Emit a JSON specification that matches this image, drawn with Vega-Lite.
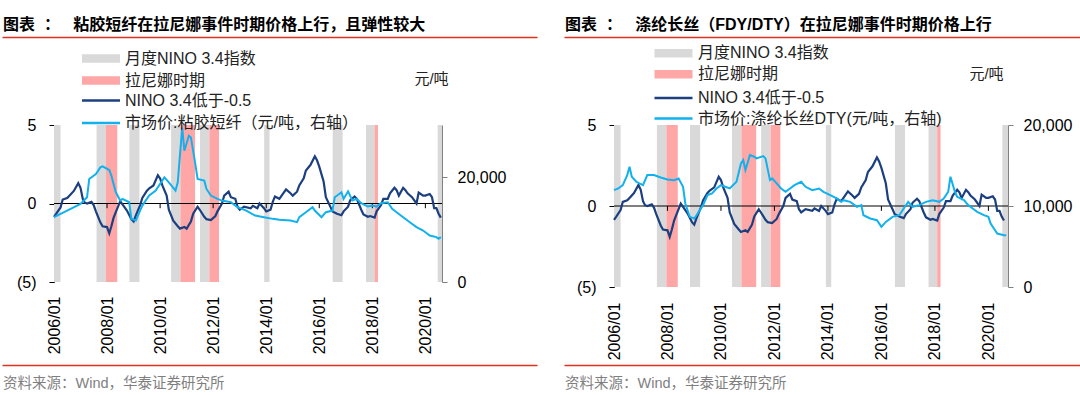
{
  "$schema": "https://vega.github.io/schema/vega-lite/v6.json",
  "background": "white",
  "padding": {"left": 2, "top": 17, "right": 0, "bottom": 0},
  "spacing": 0,
  "config": {
    "view": {"stroke": null},
    "axis": {"labelFont": "Liberation Sans, Noto Sans CJK SC", "titleFont": "Liberation Sans, Noto Sans CJK SC"},
    "legend": {"labelFont": "Liberation Sans, Noto Sans CJK SC"},
    "title": {"font": "Liberation Sans, Noto Sans CJK SC"}
  },
  "datasets": {
    "nino": [
      {"date": "2006/01/01", "nino": -0.85}, {"date": "2006/02/01", "nino": -0.65}, {"date": "2006/04/01", "nino": -0.25}, {"date": "2006/05/01", "nino": 0.25},
      {"date": "2006/07/01", "nino": 0.35}, {"date": "2006/08/01", "nino": 0.5}, {"date": "2006/10/01", "nino": 0.8}, {"date": "2006/12/01", "nino": 1.3},
      {"date": "2007/01/01", "nino": 1.0}, {"date": "2007/02/01", "nino": 0.3}, {"date": "2007/03/01", "nino": 0.05}, {"date": "2007/04/01", "nino": 0},
      {"date": "2007/06/01", "nino": 0.1}, {"date": "2007/07/01", "nino": -0.1}, {"date": "2007/08/01", "nino": -0.5}, {"date": "2007/10/01", "nino": -1.2},
      {"date": "2007/11/01", "nino": -1.45}, {"date": "2008/01/01", "nino": -1.5}, {"date": "2008/02/01", "nino": -1.9}, {"date": "2008/03/01", "nino": -1.45},
      {"date": "2008/04/01", "nino": -0.9}, {"date": "2008/05/01", "nino": -0.55}, {"date": "2008/07/01", "nino": 0.15}, {"date": "2008/08/01", "nino": -0.05},
      {"date": "2008/10/01", "nino": -0.45}, {"date": "2008/12/01", "nino": -1.0}, {"date": "2009/01/01", "nino": -1.15}, {"date": "2009/02/01", "nino": -0.75},
      {"date": "2009/04/01", "nino": -0.1}, {"date": "2009/05/01", "nino": 0.35}, {"date": "2009/07/01", "nino": 0.8}, {"date": "2009/08/01", "nino": 0.95},
      {"date": "2009/10/01", "nino": 1.15}, {"date": "2009/12/01", "nino": 1.8}, {"date": "2010/01/01", "nino": 1.6}, {"date": "2010/02/01", "nino": 1.15},
      {"date": "2010/04/01", "nino": 0.5}, {"date": "2010/05/01", "nino": -0.4}, {"date": "2010/07/01", "nino": -1.1}, {"date": "2010/09/01", "nino": -1.45},
      {"date": "2010/10/01", "nino": -1.6}, {"date": "2010/12/01", "nino": -1.5}, {"date": "2011/01/01", "nino": -1.6}, {"date": "2011/03/01", "nino": -1.15},
      {"date": "2011/04/01", "nino": -0.65}, {"date": "2011/06/01", "nino": -0.2}, {"date": "2011/07/01", "nino": -0.4}, {"date": "2011/09/01", "nino": -0.85},
      {"date": "2011/10/01", "nino": -1.0}, {"date": "2011/12/01", "nino": -1.05}, {"date": "2012/02/01", "nino": -0.8}, {"date": "2012/03/01", "nino": -0.5},
      {"date": "2012/05/01", "nino": 0}, {"date": "2012/06/01", "nino": 0.5}, {"date": "2012/08/01", "nino": 0.75}, {"date": "2012/09/01", "nino": 0.4},
      {"date": "2012/11/01", "nino": 0.3}, {"date": "2012/12/01", "nino": -0.2}, {"date": "2013/01/01", "nino": -0.4}, {"date": "2013/03/01", "nino": -0.2},
      {"date": "2013/06/01", "nino": -0.3}, {"date": "2013/07/01", "nino": -0.15}, {"date": "2013/09/01", "nino": -0.3}, {"date": "2013/10/01", "nino": 0},
      {"date": "2013/12/01", "nino": -0.3}, {"date": "2014/01/01", "nino": -0.5}, {"date": "2014/03/01", "nino": -0.4}, {"date": "2014/04/01", "nino": 0.1},
      {"date": "2014/05/01", "nino": 0.45}, {"date": "2014/07/01", "nino": 0.3}, {"date": "2014/08/01", "nino": 0.5}, {"date": "2014/10/01", "nino": 0.9},
      {"date": "2014/12/01", "nino": 0.65}, {"date": "2015/01/01", "nino": 0.5}, {"date": "2015/03/01", "nino": 0.75}, {"date": "2015/04/01", "nino": 1.15},
      {"date": "2015/06/01", "nino": 1.6}, {"date": "2015/07/01", "nino": 2.1}, {"date": "2015/09/01", "nino": 2.45}, {"date": "2015/11/01", "nino": 3.0},
      {"date": "2015/12/01", "nino": 2.75}, {"date": "2016/01/01", "nino": 2.35}, {"date": "2016/03/01", "nino": 1.4}, {"date": "2016/04/01", "nino": 0.4},
      {"date": "2016/06/01", "nino": -0.2}, {"date": "2016/07/01", "nino": -0.5}, {"date": "2016/09/01", "nino": -0.65}, {"date": "2016/11/01", "nino": -0.75},
      {"date": "2016/12/01", "nino": -0.5}, {"date": "2017/02/01", "nino": -0.2}, {"date": "2017/03/01", "nino": 0.2}, {"date": "2017/05/01", "nino": 0.45},
      {"date": "2017/06/01", "nino": 0.3}, {"date": "2017/08/01", "nino": -0.4}, {"date": "2017/09/01", "nino": -0.7}, {"date": "2017/11/01", "nino": -0.85},
      {"date": "2017/12/01", "nino": -0.8}, {"date": "2018/02/01", "nino": -0.9}, {"date": "2018/03/01", "nino": -0.5}, {"date": "2018/05/01", "nino": -0.1},
      {"date": "2018/06/01", "nino": 0.3}, {"date": "2018/08/01", "nino": 0.3}, {"date": "2018/09/01", "nino": 0.65}, {"date": "2018/11/01", "nino": 1.0},
      {"date": "2018/12/01", "nino": 0.85}, {"date": "2019/01/01", "nino": 0.5}, {"date": "2019/03/01", "nino": 1.0}, {"date": "2019/04/01", "nino": 0.85},
      {"date": "2019/05/01", "nino": 0.65}, {"date": "2019/07/01", "nino": 0.4}, {"date": "2019/09/01", "nino": 0}, {"date": "2019/10/01", "nino": 0.7},
      {"date": "2019/12/01", "nino": 0.5}, {"date": "2020/01/01", "nino": 0.5}, {"date": "2020/03/01", "nino": 0.6}, {"date": "2020/04/01", "nino": 0.4},
      {"date": "2020/05/01", "nino": -0.3}, {"date": "2020/06/01", "nino": -0.3}, {"date": "2020/07/01", "nino": -0.65}, {"date": "2020/08/01", "nino": -0.9}
    ],
    "shade_l": [
      {"start": "2006/01/01", "end": "2006/04/01", "kind": "月度NINO 3.4指数"},
      {"start": "2007/08/10", "end": "2007/12/17", "kind": "月度NINO 3.4指数"},
      {"start": "2007/12/17", "end": "2008/05/21", "kind": "拉尼娜时期"},
      {"start": "2008/11/04", "end": "2009/03/22", "kind": "月度NINO 3.4指数"},
      {"start": "2010/06/01", "end": "2010/10/07", "kind": "月度NINO 3.4指数"},
      {"start": "2010/10/07", "end": "2011/04/27", "kind": "拉尼娜时期"},
      {"start": "2011/07/04", "end": "2011/11/10", "kind": "月度NINO 3.4指数"},
      {"start": "2011/11/10", "end": "2012/03/22", "kind": "拉尼娜时期"},
      {"start": "2013/12/04", "end": "2014/02/15", "kind": "月度NINO 3.4指数"},
      {"start": "2016/07/04", "end": "2016/11/18", "kind": "月度NINO 3.4指数"},
      {"start": "2017/10/06", "end": "2018/02/01", "kind": "月度NINO 3.4指数"},
      {"start": "2018/02/01", "end": "2018/03/19", "kind": "拉尼娜时期"},
      {"start": "2020/06/19", "end": "2020/08/17", "kind": "月度NINO 3.4指数"}
    ],
    "shade_r": [
      {"start": "2006/01/01", "end": "2006/04/01", "kind": "月度NINO 3.4指数"},
      {"start": "2007/08/10", "end": "2007/12/17", "kind": "月度NINO 3.4指数"},
      {"start": "2007/12/17", "end": "2008/05/21", "kind": "拉尼娜时期"},
      {"start": "2008/11/04", "end": "2009/03/22", "kind": "月度NINO 3.4指数"},
      {"start": "2010/06/01", "end": "2010/10/07", "kind": "月度NINO 3.4指数"},
      {"start": "2010/10/07", "end": "2011/04/27", "kind": "拉尼娜时期"},
      {"start": "2011/07/04", "end": "2011/11/10", "kind": "月度NINO 3.4指数"},
      {"start": "2011/11/10", "end": "2012/03/22", "kind": "拉尼娜时期"},
      {"start": "2013/12/04", "end": "2014/02/15", "kind": "月度NINO 3.4指数"},
      {"start": "2016/07/04", "end": "2016/11/18", "kind": "月度NINO 3.4指数"},
      {"start": "2017/10/06", "end": "2018/02/01", "kind": "月度NINO 3.4指数"},
      {"start": "2018/02/01", "end": "2018/03/19", "kind": "拉尼娜时期"},
      {"start": "2020/07/10", "end": "2020/09/25", "kind": "月度NINO 3.4指数"}
    ],
    "price_l": [
      {"date": "2006/01/01", "price": 12380}, {"date": "2006/07/01", "price": 13650}, {"date": "2007/01/01", "price": 14920}, {"date": "2007/04/01", "price": 16190},
      {"date": "2007/05/01", "price": 19685}, {"date": "2007/08/01", "price": 20640}, {"date": "2007/10/01", "price": 21910}, {"date": "2007/11/01", "price": 22100},
      {"date": "2008/02/01", "price": 21400}, {"date": "2008/03/01", "price": 20320}, {"date": "2008/05/01", "price": 17145}, {"date": "2008/07/01", "price": 15560},
      {"date": "2008/08/01", "price": 15875}, {"date": "2008/11/01", "price": 15240}, {"date": "2008/12/01", "price": 12065}, {"date": "2009/02/01", "price": 11750},
      {"date": "2009/03/01", "price": 12700}, {"date": "2009/05/01", "price": 14600}, {"date": "2009/08/01", "price": 16510}, {"date": "2009/11/01", "price": 17460},
      {"date": "2010/03/01", "price": 20000}, {"date": "2010/05/01", "price": 19050}, {"date": "2010/08/01", "price": 17460}, {"date": "2010/09/01", "price": 19050},
      {"date": "2010/11/01", "price": 29530}, {"date": "2010/12/01", "price": 25080}, {"date": "2011/02/01", "price": 27940}, {"date": "2011/03/01", "price": 27620},
      {"date": "2011/05/01", "price": 22540}, {"date": "2011/06/01", "price": 19685}, {"date": "2011/09/01", "price": 19370}, {"date": "2011/10/01", "price": 17780},
      {"date": "2011/12/01", "price": 16510}, {"date": "2012/03/01", "price": 15875}, {"date": "2012/05/01", "price": 15560}, {"date": "2012/09/01", "price": 15240},
      {"date": "2012/12/01", "price": 14290}, {"date": "2013/04/01", "price": 13650}, {"date": "2013/08/01", "price": 12700}, {"date": "2013/12/01", "price": 12380},
      {"date": "2014/04/01", "price": 12065}, {"date": "2014/07/01", "price": 11875}, {"date": "2014/12/01", "price": 11750}, {"date": "2015/03/01", "price": 11430},
      {"date": "2015/04/01", "price": 12380}, {"date": "2015/07/01", "price": 13335}, {"date": "2015/10/01", "price": 14290}, {"date": "2015/11/01", "price": 13650},
      {"date": "2016/02/01", "price": 12380}, {"date": "2016/04/01", "price": 13335}, {"date": "2016/07/01", "price": 13650}, {"date": "2016/08/01", "price": 16190},
      {"date": "2016/11/01", "price": 17145}, {"date": "2016/12/01", "price": 15875}, {"date": "2017/02/01", "price": 17335}, {"date": "2017/04/01", "price": 15560},
      {"date": "2017/06/01", "price": 15875}, {"date": "2017/08/01", "price": 15050}, {"date": "2017/11/01", "price": 14415}, {"date": "2018/01/01", "price": 14600},
      {"date": "2018/03/01", "price": 14415}, {"date": "2018/05/01", "price": 15050}, {"date": "2018/08/01", "price": 15240}, {"date": "2018/10/01", "price": 13970},
      {"date": "2018/12/01", "price": 13335}, {"date": "2019/03/01", "price": 12380}, {"date": "2019/06/01", "price": 11430}, {"date": "2019/09/01", "price": 10480},
      {"date": "2019/12/01", "price": 9840}, {"date": "2020/03/01", "price": 8890}, {"date": "2020/06/01", "price": 8570}, {"date": "2020/07/01", "price": 8255},
      {"date": "2020/08/01", "price": 8570}
    ],
    "price_r": [
      {"date": "2006/01/01", "price": 11960}, {"date": "2006/03/01", "price": 12165}, {"date": "2006/05/01", "price": 12580}, {"date": "2006/07/01", "price": 13815},
      {"date": "2006/08/01", "price": 14845}, {"date": "2006/09/01", "price": 13610}, {"date": "2006/11/01", "price": 12990}, {"date": "2007/02/01", "price": 12580},
      {"date": "2007/04/01", "price": 13815}, {"date": "2007/07/01", "price": 13815}, {"date": "2007/10/01", "price": 13525}, {"date": "2008/01/01", "price": 13280},
      {"date": "2008/04/01", "price": 13195}, {"date": "2008/06/01", "price": 13400}, {"date": "2008/08/01", "price": 12370}, {"date": "2008/09/01", "price": 10310},
      {"date": "2008/11/01", "price": 8660}, {"date": "2009/01/01", "price": 8455}, {"date": "2009/02/01", "price": 8865}, {"date": "2009/05/01", "price": 10105},
      {"date": "2009/07/01", "price": 11340}, {"date": "2009/09/01", "price": 11550}, {"date": "2009/11/01", "price": 12165}, {"date": "2010/01/01", "price": 12580},
      {"date": "2010/03/01", "price": 12370}, {"date": "2010/05/01", "price": 12165}, {"date": "2010/08/01", "price": 12990}, {"date": "2010/10/01", "price": 15260},
      {"date": "2010/11/01", "price": 15670}, {"date": "2010/12/01", "price": 14435}, {"date": "2011/02/01", "price": 16290}, {"date": "2011/04/01", "price": 16085},
      {"date": "2011/05/01", "price": 15875}, {"date": "2011/08/01", "price": 16165}, {"date": "2011/09/01", "price": 15875}, {"date": "2011/11/01", "price": 13195},
      {"date": "2011/12/01", "price": 13400}, {"date": "2012/02/01", "price": 12785}, {"date": "2012/04/01", "price": 12165}, {"date": "2012/06/01", "price": 11755},
      {"date": "2012/08/01", "price": 12165}, {"date": "2012/10/01", "price": 12580}, {"date": "2013/01/01", "price": 12990}, {"date": "2013/03/01", "price": 12370},
      {"date": "2013/06/01", "price": 11960}, {"date": "2013/09/01", "price": 12165}, {"date": "2013/11/01", "price": 11755}, {"date": "2014/02/01", "price": 11340},
      {"date": "2014/05/01", "price": 10930}, {"date": "2014/07/01", "price": 10515}, {"date": "2014/08/01", "price": 10720}, {"date": "2014/11/01", "price": 10515},
      {"date": "2015/02/01", "price": 9900}, {"date": "2015/04/01", "price": 10105}, {"date": "2015/05/01", "price": 8865}, {"date": "2015/08/01", "price": 8455},
      {"date": "2015/11/01", "price": 8250}, {"date": "2016/01/01", "price": 7425}, {"date": "2016/03/01", "price": 8040}, {"date": "2016/06/01", "price": 8660},
      {"date": "2016/09/01", "price": 8865}, {"date": "2016/11/01", "price": 9690}, {"date": "2017/01/01", "price": 10515}, {"date": "2017/03/01", "price": 9900},
      {"date": "2017/06/01", "price": 10105}, {"date": "2017/09/01", "price": 10515}, {"date": "2017/12/01", "price": 10720}, {"date": "2018/03/01", "price": 10515},
      {"date": "2018/05/01", "price": 10930}, {"date": "2018/07/01", "price": 11755}, {"date": "2018/08/01", "price": 13610}, {"date": "2018/10/01", "price": 11755},
      {"date": "2018/11/01", "price": 11135}, {"date": "2019/02/01", "price": 10720}, {"date": "2019/04/01", "price": 10105}, {"date": "2019/06/01", "price": 9690},
      {"date": "2019/08/01", "price": 9280}, {"date": "2019/11/01", "price": 8865}, {"date": "2020/01/01", "price": 8660}, {"date": "2020/02/01", "price": 7835},
      {"date": "2020/04/01", "price": 7010}, {"date": "2020/05/01", "price": 6600}, {"date": "2020/08/01", "price": 6390}, {"date": "2020/09/01", "price": 6390}
    ],
    "ticks": [
      {"date": "2008/01/01"}, {"date": "2010/01/01"}, {"date": "2012/01/01"}, {"date": "2014/01/01"}, {"date": "2016/01/01"}, {"date": "2018/01/01"}, {"date": "2020/01/01"}
    ]
  },
  "vconcat": [
    {
      "spacing": -25,
      "hconcat": [
        {
          "width": 483, "height": 5.7,
          "title": {"text": "图表\u00a0\u00a0：\u00a0\u00a0\u00a0粘胶短纤在拉尼娜事件时期价格上行，且弹性较大", "anchor": "start", "frame": "group", "fontSize": 16, "fontWeight": "bold", "color": "#000000", "offset": 4, "dx": -51},
          "data": {"values": [{"v": 0}]},
          "mark": {"type": "rule", "opacity": 0},
          "encoding": {"x": {"field": "v", "type": "quantitative", "scale": {"domain": [0, 1], "range": [-52, 483]}, "axis": {"orient": "top", "domainColor": "#e0301e", "domainWidth": 1.5, "ticks": false, "labels": false, "grid": false, "title": null}}}
        },
        {
          "width": 467, "height": 5.7,
          "title": {"text": "图表\u00a0\u00a0：\u00a0\u00a0\u00a0涤纶长丝（FDY/DTY）在拉尼娜事件时期价格上行", "anchor": "start", "frame": "group", "fontSize": 16, "fontWeight": "bold", "color": "#000000", "offset": 4, "dx": -50},
          "data": {"values": [{"v": 0}]},
          "mark": {"type": "rule", "opacity": 0},
          "encoding": {"x": {"field": "v", "type": "quantitative", "scale": {"domain": [0, 1], "range": [-51, 467]}, "axis": {"orient": "top", "domainColor": "#e0301e", "domainWidth": 1.5, "ticks": false, "labels": false, "grid": false, "title": null}}}
        }
      ]
    },
    {
      "spacing": 57,
      "resolve": {"scale": {"x": "independent", "y": "independent", "fill": "independent", "stroke": "independent"}, "legend": {"fill": "independent", "stroke": "independent"}},
      "hconcat": [
        {
          "width": 388, "height": 157,
          "layer": [
            {
              "layer": [
                {
                  "data": {"name": "shade_l"},
                  "mark": {"type": "rect"},
                  "encoding": {
                    "x": {"field": "start", "type": "temporal",
                      "scale": {"domain": [{"year": 2006, "month": 1, "date": 1}, {"year": 2020, "month": 8, "date": 17}]},
                      "axis": {"orient": "bottom", "values": [{"year": 2006, "month": 1, "date": 1}, {"year": 2008, "month": 1, "date": 1}, {"year": 2010, "month": 1, "date": 1}, {"year": 2012, "month": 1, "date": 1}, {"year": 2014, "month": 1, "date": 1}, {"year": 2016, "month": 1, "date": 1}, {"year": 2018, "month": 1, "date": 1}, {"year": 2020, "month": 1, "date": 1}],
                        "format": "%Y/%m", "labelAngle": -90, "ticks": false, "domain": false, "grid": false, "labelPadding": 14, "labelFontSize": 16, "labelColor": "#000000", "labelFlush": false, "labelOverlap": false, "title": null, "minExtent": 83, "maxExtent": 83}},
                    "x2": {"field": "end"},
                    "y": {"datum": -5, "type": "quantitative", "scale": {"domain": [-5, 5]},
                      "axis": {"orient": "left", "values": [-5, 0, 5], "labelExpr": "datum.value < 0 ? '(' + abs(datum.value) + ')' : datum.value + '\u00a0'", "domainColor": "#000000", "tickColor": "#000000", "tickSize": 5, "labelPadding": 13, "labelFontSize": 16, "labelColor": "#000000", "grid": false, "title": null, "minExtent": 52, "maxExtent": 52}},
                    "y2": {"datum": 5},
                    "fill": {"field": "kind", "type": "nominal",
                      "scale": {"domain": ["月度NINO 3.4指数", "拉尼娜时期"], "range": ["#d9d9d9", "#ffa7a7"]},
                      "legend": {"orient": "none", "legendX": 37.5, "legendY": -76, "title": null, "symbolType": "M-2,-0.45H2V0.45H-2Z", "symbolSize": 361, "symbolStrokeWidth": 0, "labelOffset": 14.5, "labelFontSize": 16, "labelColor": "#222222", "rowPadding": 4, "padding": 0, "direction": "vertical", "labelLimit": 400}}
                  }
                },
                {
                  "data": {"values": [{"z": 0}]},
                  "mark": {"type": "rule", "color": "#000000", "strokeWidth": 1},
                  "encoding": {"y": {"datum": 0, "type": "quantitative"}}
                },
                {
                  "data": {"name": "ticks"},
                  "mark": {"type": "rule", "color": "#000000", "strokeWidth": 1},
                  "encoding": {"x": {"field": "date", "type": "temporal"}, "y": {"datum": 0, "type": "quantitative"}, "y2": {"datum": -0.3}}
                },
                {
                  "data": {"name": "nino"},
                  "mark": {"type": "line", "strokeWidth": 2.2},
                  "encoding": {
                    "x": {"field": "date", "type": "temporal"},
                    "y": {"field": "nino", "type": "quantitative"},
                    "stroke": {"datum": "NINO 3.4低于-0.5", "type": "nominal",
                      "scale": {"domain": ["NINO 3.4低于-0.5", "市场价:粘胶短纤（元/吨，右轴）"], "range": ["#1c3f7f", "#11b1ee"]},
                      "legend": {"orient": "none", "legendX": 36, "legendY": -35.5, "title": null, "symbolType": "M-2,0H2", "symbolSize": 361, "symbolStrokeWidth": 2.5, "labelOffset": 13, "labelFontSize": 16, "labelColor": "#222222", "rowPadding": 3.5, "padding": 0, "direction": "vertical", "labelLimit": 400}}
                  }
                }
              ]
            },
            {
              "data": {"name": "price_l"},
              "mark": {"type": "line", "strokeWidth": 2},
              "encoding": {
                "x": {"field": "date", "type": "temporal"},
                "y": {"field": "price", "type": "quantitative", "scale": {"domain": [0, 30000]},
                  "axis": {"orient": "right", "values": [0, 20000], "labelExpr": "format(datum.value, ',')", "domainColor": "#808080", "tickColor": "#808080", "tickSize": 5, "labelPadding": 10, "labelFontSize": 16, "labelColor": "#000000", "grid": false, "minExtent": 63, "maxExtent": 63,
                    "title": "元/吨", "titleAngle": 0, "titleX": -11, "titleY": -47, "titleAlign": "center", "titleBaseline": "middle", "titleFontWeight": "normal", "titleFontSize": 15, "titleColor": "#222222"}},
                "stroke": {"datum": "市场价:粘胶短纤（元/吨，右轴）", "type": "nominal"}
              }
            }
          ],
          "resolve": {"scale": {"y": "independent"}}
        },
        {
          "width": 394, "height": 162,
          "layer": [
            {
              "layer": [
                {
                  "data": {"name": "shade_r"},
                  "mark": {"type": "rect"},
                  "encoding": {
                    "x": {"field": "start", "type": "temporal",
                      "scale": {"domain": [{"year": 2006, "month": 1, "date": 1}, {"year": 2020, "month": 9, "date": 25}]},
                      "axis": {"orient": "bottom", "values": [{"year": 2006, "month": 1, "date": 1}, {"year": 2008, "month": 1, "date": 1}, {"year": 2010, "month": 1, "date": 1}, {"year": 2012, "month": 1, "date": 1}, {"year": 2014, "month": 1, "date": 1}, {"year": 2016, "month": 1, "date": 1}, {"year": 2018, "month": 1, "date": 1}, {"year": 2020, "month": 1, "date": 1}],
                        "format": "%Y/%m", "labelAngle": -90, "ticks": false, "domain": false, "grid": false, "labelPadding": 15, "labelFontSize": 16, "labelColor": "#000000", "labelFlush": false, "labelOverlap": false, "title": null, "minExtent": 78, "maxExtent": 78}},
                    "x2": {"field": "end"},
                    "y": {"datum": -5, "type": "quantitative", "scale": {"domain": [-5, 5]},
                      "axis": {"orient": "left", "values": [-5, 0, 5], "labelExpr": "datum.value < 0 ? '(' + abs(datum.value) + ')' : datum.value + '\u00a0'", "domainColor": "#000000", "tickColor": "#000000", "tickSize": 5, "labelPadding": 13, "labelFontSize": 16, "labelColor": "#000000", "grid": false, "title": null, "minExtent": 51, "maxExtent": 51}},
                    "y2": {"datum": 5},
                    "fill": {"field": "kind", "type": "nominal",
                      "scale": {"domain": ["月度NINO 3.4指数", "拉尼娜时期"], "range": ["#d9d9d9", "#ffa7a7"]},
                      "legend": {"orient": "none", "legendX": 50, "legendY": -81.3, "title": null, "symbolType": "M-2,-0.45H2V0.45H-2Z", "symbolSize": 361, "symbolStrokeWidth": 0, "labelOffset": 15, "labelFontSize": 16, "labelColor": "#222222", "rowPadding": 3, "padding": 0, "direction": "vertical", "labelLimit": 400}}
                  }
                },
                {
                  "data": {"values": [{"z": 0}]},
                  "mark": {"type": "rule", "color": "#000000", "strokeWidth": 1},
                  "encoding": {"y": {"datum": 0, "type": "quantitative"}}
                },
                {
                  "data": {"name": "ticks"},
                  "mark": {"type": "rule", "color": "#000000", "strokeWidth": 1},
                  "encoding": {"x": {"field": "date", "type": "temporal"}, "y": {"datum": 0, "type": "quantitative"}, "y2": {"datum": -0.3}}
                },
                {
                  "data": {"name": "nino"},
                  "mark": {"type": "line", "strokeWidth": 2.2},
                  "encoding": {
                    "x": {"field": "date", "type": "temporal"},
                    "y": {"field": "nino", "type": "quantitative"},
                    "stroke": {"datum": "NINO 3.4低于-0.5", "type": "nominal",
                      "scale": {"domain": ["NINO 3.4低于-0.5", "市场价:涤纶长丝DTY(元/吨，右轴)"], "range": ["#1c3f7f", "#11b1ee"]},
                      "legend": {"orient": "none", "legendX": 48.5, "legendY": -38, "title": null, "symbolType": "M-2,0H2", "symbolSize": 361, "symbolStrokeWidth": 2.5, "labelOffset": 13.5, "labelFontSize": 16, "labelColor": "#222222", "rowPadding": 1.5, "padding": 0, "direction": "vertical", "labelLimit": 400}}
                  }
                }
              ]
            },
            {
              "data": {"name": "price_r"},
              "mark": {"type": "line", "strokeWidth": 2},
              "encoding": {
                "x": {"field": "date", "type": "temporal"},
                "y": {"field": "price", "type": "quantitative", "scale": {"domain": [0, 20000]},
                  "axis": {"orient": "right", "values": [0, 10000, 20000], "labelExpr": "format(datum.value, ',')", "domainColor": "#808080", "tickColor": "#808080", "tickSize": 5, "labelPadding": 10, "labelFontSize": 16, "labelColor": "#000000", "grid": false,
                    "title": "元/吨", "titleAngle": 0, "titleX": -22, "titleY": -52, "titleAlign": "center", "titleBaseline": "middle", "titleFontWeight": "normal", "titleFontSize": 15, "titleColor": "#222222"}},
                "stroke": {"datum": "市场价:涤纶长丝DTY(元/吨，右轴)", "type": "nominal"}
              }
            }
          ],
          "resolve": {"scale": {"y": "independent"}}
        }
      ]
    },
    {
      "spacing": -25,
      "hconcat": [
        {
          "width": 483, "height": 1,
          "title": {"text": "资料来源：Wind，华泰证券研究所", "orient": "bottom", "anchor": "start", "frame": "group", "fontSize": 14.5, "fontWeight": "normal", "color": "#7f7f7f", "offset": 11, "dx": -51},
          "data": {"values": [{"v": 0}]},
          "mark": {"type": "rule", "opacity": 0},
          "encoding": {"x": {"field": "v", "type": "quantitative", "scale": {"domain": [0, 1], "range": [-52, 483]}, "axis": {"orient": "top", "domainColor": "#e0301e", "domainWidth": 1.5, "ticks": false, "labels": false, "grid": false, "title": null}}}
        },
        {
          "width": 467, "height": 1,
          "title": {"text": "资料来源：Wind，华泰证券研究所", "orient": "bottom", "anchor": "start", "frame": "group", "fontSize": 14.5, "fontWeight": "normal", "color": "#7f7f7f", "offset": 11, "dx": -50},
          "data": {"values": [{"v": 0}]},
          "mark": {"type": "rule", "opacity": 0},
          "encoding": {"x": {"field": "v", "type": "quantitative", "scale": {"domain": [0, 1], "range": [-51, 467]}, "axis": {"orient": "top", "domainColor": "#e0301e", "domainWidth": 1.5, "ticks": false, "labels": false, "grid": false, "title": null}}}
        }
      ]
    }
  ]
}
